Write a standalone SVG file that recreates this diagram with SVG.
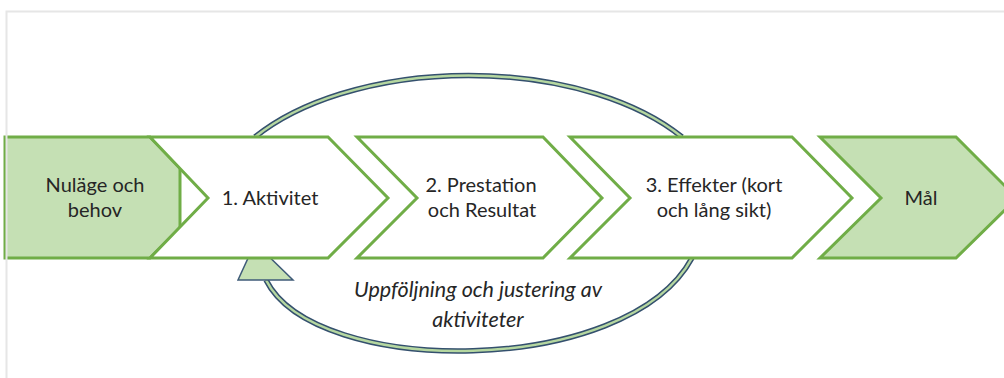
<svg xmlns="http://www.w3.org/2000/svg" width="1004" height="378" viewBox="0 0 1004 378">
<style>
.frame{fill:none;stroke:#E6E6E6;stroke-width:2}
.step{stroke:#70AD47;stroke-width:3;stroke-linejoin:miter}
.white{fill:#FFFFFF}
.green{fill:#C5E0B4}
.lbl{font-family:Lato,"Liberation Sans",sans-serif;font-size:20px;fill:#262626;text-anchor:middle}
.note{font-family:Lato,"Liberation Sans",sans-serif;font-size:21.5px;font-style:italic;fill:#262626;text-anchor:middle}
.band-out{fill:none;stroke:#34506E;stroke-width:5.5}
.band-in{fill:none;stroke:#B5D7A0;stroke-width:2.5}
.head{fill:#C5E0B4;stroke:#3F5B78;stroke-width:1.5;stroke-linejoin:miter}
</style>
<rect x="0" y="0" width="1004" height="378" fill="#FFFFFF"/>
<g id="connectors">
  <path class="band-out" d="M255,137 A257,139 0 0,1 682,137"/>
  <path class="band-in" d="M255,137 A257,139 0 0,1 682,137"/>
  <path class="band-out" d="M266,280 C315,378 627,378 692,258"/>
  <path class="band-in" d="M266,280 C315,378 627,378 692,258"/>
  <polygon class="head" points="238,280 293,280 255,243"/>
</g>
<g id="node-nulage">
  <polygon class="step green" points="5,137 150,137 180,168 180,228 150,258 5,258"/>
  <text class="lbl" x="95" y="192">Nuläge och</text>
  <text class="lbl" x="95" y="217">behov</text>
</g>
<g id="node-aktivitet">
  <polygon class="step white" points="150,137 328,137 388,198 328,258 150,258 208,198"/>
  <text class="lbl" x="270" y="205">1. Aktivitet</text>
</g>
<g id="node-prestation">
  <polygon class="step white" points="357,137 543,137 602,198 543,258 357,258 417,198"/>
  <text class="lbl" x="481" y="192">2. Prestation</text>
  <text class="lbl" x="482" y="217">och Resultat</text>
</g>
<g id="node-effekter">
  <polygon class="step white" points="570,137 792,137 852,198 792,258 570,258 630,198"/>
  <text class="lbl" x="714" y="192">3. Effekter (kort</text>
  <text class="lbl" x="714" y="217">och lång sikt)</text>
</g>
<g id="node-mal">
  <polygon class="step green" points="820,137 956,137 1017,198 956,258 820,258 881,198"/>
  <text class="lbl" x="921" y="205">Mål</text>
</g>
<g id="loop-label">
  <text class="note" x="478" y="297">Uppföljning och justering av</text>
  <text class="note" x="478" y="327">aktiviteter</text>
</g>
<rect class="frame" x="6.5" y="11.5" width="1100" height="1000"/>
</svg>
